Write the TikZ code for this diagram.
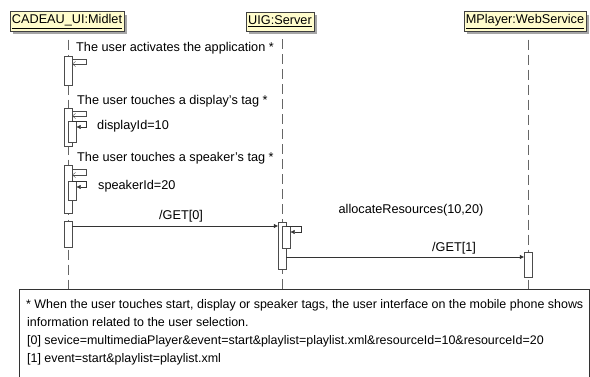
\documentclass[tikz,border=0pt]{standalone}
\usepackage{fontspec}
\setmainfont{Liberation Sans}
\usetikzlibrary{arrows.meta,shadows}

\tikzset{
    lifeline/.style={draw=black!60, dash pattern=on 10pt off 5pt},
    retmsg/.style={draw=black!70, -{Straight Barb[length=3pt,width=5pt]}},
    callmsg/.style={draw=black!80, -{Triangle[length=4pt,width=4pt]}}
}

\begin{document}
\begin{tikzpicture}[x=1pt, y=-1pt, font=\fontsize{12.7}{18}\selectfont]
    \useasboundingbox (0,0) rectangle (590,377);

    \coordinate (noteTop) at (0,289);

    % objects
    \begin{scope}[every node/.style={draw=black!75, fill=yellow!20, minimum height=19pt, inner xsep=2pt, inner ysep=3pt, drop shadow={shadow xshift=3pt, shadow yshift=-3pt, fill=black!35, opacity=1}}]
        \node (midlet) at (67,21.5) {\underline{CADEAU\_UI:Midlet}};
        \node (server) at (280,21.5) {\underline{UIG:Server}};
        \node (player) at (525,21.5) {\underline{MPlayer:WebService}};
    \end{scope}

    % lifelines
    \draw[lifeline] ([xshift=1pt,yshift=-8pt]midlet.south) -- ([xshift=1pt]midlet.south |- noteTop);
    \draw[lifeline] ([xshift=2pt,yshift=-8pt]server.south) -- ([xshift=2pt]server.south |- noteTop);
    \draw[lifeline] ([xshift=3pt,yshift=-8pt]player.south) -- ([xshift=3pt]player.south |- noteTop);

    % activations
    \begin{scope}[every node/.style={draw=black!70, fill=white, minimum width=8pt, inner sep=0pt, anchor=north}]
        \node[minimum height=29pt] (a1) at (68,56) {};
        \node[minimum height=38pt] (a2) at (68,108) {};
        \node[minimum height=21pt] (n2) at (72.5,121) {};
        \node[minimum height=48pt] (a3) at (68,165) {};
        \node[minimum height=19pt] (n3) at (72.5,181) {};
        \node[minimum height=26pt] (a4) at (68,221) {};
        \node[minimum height=47pt] (s1) at (282,222) {};
        \node[minimum height=22pt] (s2) at (286.5,226) {};
        \node[minimum height=25pt] (p1) at (528,252) {};
    \end{scope}

    % self messages
    \draw[retmsg] ([yshift=-3pt]a1.north east) -- ++(14,0) |- ([yshift=-8pt]a1.north east);
    \draw[retmsg] ([yshift=-3pt]a2.north east) -- ++(14,0) |- ([yshift=-8pt]a2.north east);
    \draw[retmsg] ([yshift=-4pt]a3.north east) -- ++(14,0) |- ([yshift=-10pt]a3.north east);
    \draw[callmsg] (a2.east |- n2.north) -- ++(14,0) |- ([yshift=-6pt]n2.north east);
    \draw[callmsg] (a3.east |- n3.north) -- ++(14,0) |- ([yshift=-6pt]n3.north east);
    \draw[callmsg] (s1.east |- s2.north) -- ++(15,0) |- ([yshift=-6pt]s2.north east);

    % messages
    \coordinate (get0from) at ([yshift=-5pt]a4.north east);
    \coordinate (get1to) at ([yshift=-5pt]p1.north west);
    \draw[callmsg] (get0from) -- (get0from -| s1.west);
    \draw[callmsg] (s1.east |- get1to) -- (get1to);

    % labels
    \begin{scope}[every node/.style={inner sep=0pt, anchor=base west}]
        \node (t1) at (76,51.5) {The user activates the application *};
        \node (t2) at (77,104.5) {The user touches a display's tag *};
        \node (t3) at (77,161.5) {The user touches a speaker's tag *};
        \node (disp) at (97,129.5) {displayId=10};
        \node (spk) at (98,189.5) {speakerId=20};
        \node[anchor=base] (get0) at (181,219.5) {/GET[0]};
        \node[anchor=base] (alloc) at (411,213.5) {allocateResources(10,20)};
        \node[anchor=base] (get1) at (454,251.5) {/GET[1]};
    \end{scope}

    % note
    \draw[black!80] (19,289) rectangle (589,395);
    \begin{scope}[every node/.style={inner sep=0pt, anchor=base west, font=\fontsize{12.45}{18}\selectfont}]
        \node (l1) at (26,308.5) {* When the user touches start, display or speaker tags, the user interface on the mobile phone shows};
        \node (l2) at (27,326.5) {information related to the user selection.};
        \node (l3) at (27,344.5) {[0] sevice=multimediaPlayer\&event=start\&playlist=playlist.xml\&resourceId=10\&resourceId=20};
        \node (l4) at (27,362.5) {[1] event=start\&playlist=playlist.xml};
    \end{scope}
\end{tikzpicture}
\end{document}
